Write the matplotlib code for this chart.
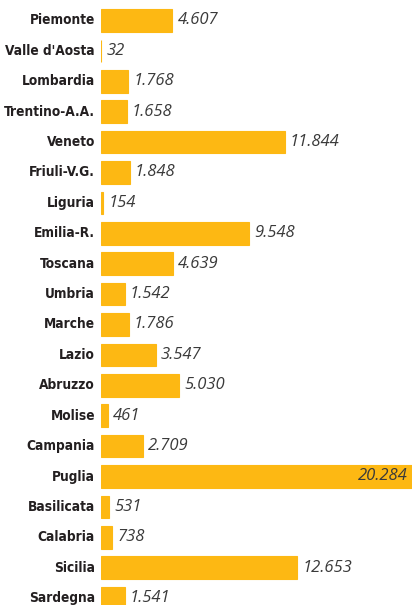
import matplotlib
matplotlib.use("Agg")
import matplotlib.pyplot as plt

# Regioni e valori
regioni = ['Piemonte', "Valle d'Aosta", 'Lombardia', 'Trentino-A.A.', 'Veneto',
           'Friuli-V.G.', 'Liguria', 'Emilia-R.', 'Toscana', 'Umbria', 'Marche',
           'Lazio', 'Abruzzo', 'Molise', 'Campania', 'Puglia', 'Basilicata',
           'Calabria', 'Sicilia', 'Sardegna']
valori = [4607, 32, 1768, 1658, 11844, 1848, 154, 9548, 4639, 1542, 1786,
          3547, 5030, 461, 2709, 20284, 531, 738, 12653, 1541]

BAR = '#FDB813'
W, H = 412, 605

fig = plt.figure(figsize=(W / 100, H / 100), dpi=100)
ax = fig.add_axes([101 / W, 0, 1 - 101 / W, 1])

y = list(range(len(regioni)))
ax.barh(y, valori, height=0.74, color=BAR, edgecolor=BAR, linewidth=0.8)

passo = 30.4
ax.set_ylim((H - 20.5) / passo, -20.5 / passo)
ax.set_xlim(0, 311 / 15.5 * 1000)
ax.axis('off')


def fmt(v):
    return f"{v:,}".replace(',', '.')


xmax = ax.get_xlim()[1]
for i, (r, v) in enumerate(zip(regioni, valori)):
    ax.text(-6 / 311 * xmax, i, r, ha='right', va='center', fontsize=9.8,
            fontweight='bold', fontstretch='condensed', family='DejaVu Sans',
            color='#231f20')
    if v > xmax * 0.9:
        ax.text(xmax - 4 / 311 * xmax, i, fmt(v), ha='right', va='center',
                fontsize=12, style='italic', color='#3a3a3a', family='Open Sans')
    else:
        ax.text(v + 5 / 311 * xmax, i, fmt(v), ha='left', va='center',
                fontsize=12, style='italic', color='#3a3a3a', family='Open Sans')

for t in ax.texts:
    t.set_clip_on(False)

fig.savefig('out.png', dpi=100)
